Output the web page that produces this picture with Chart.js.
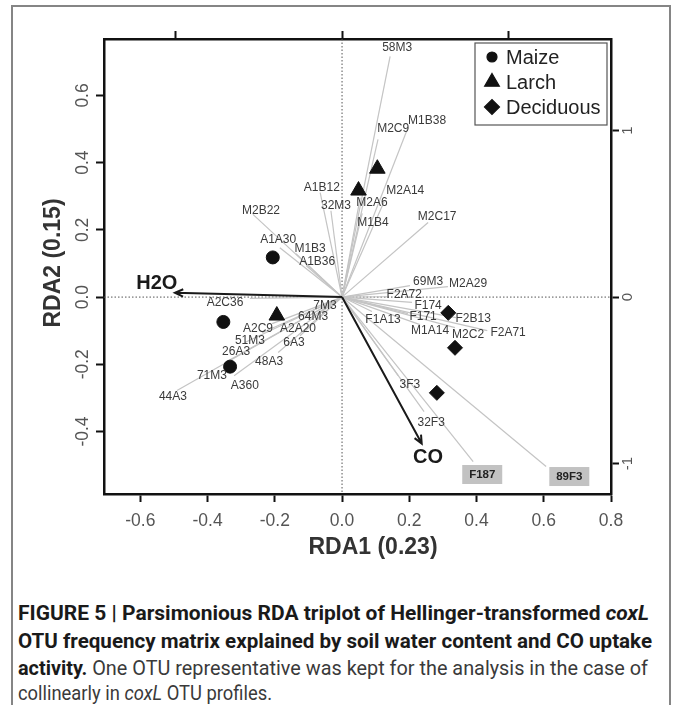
<!DOCTYPE html>
<html>
<head>
<meta charset="utf-8">
<script src="https://cdn.jsdelivr.net/npm/chart.js@4.4.0/dist/chart.umd.min.js"></script>
<style>
  html, body { margin: 0; padding: 0; background: #fff; }
  body { width: 673px; height: 705px; position: relative; overflow: hidden; }
  #frame { position: absolute; left: 11px; top: 5px; width: 656px; height: 720px;
           border: 2px solid #858585; border-bottom: none; }
  #plot { position: absolute; left: 0; top: 0; width: 673px; height: 570px; }
  .cap { position: absolute; left: 18px; white-space: nowrap; line-height: 26px;
         font-family: "Liberation Sans Narrow", "Roboto", "Liberation Sans", sans-serif;
         font-size: 19.5px; color: #3a3a3a; transform-origin: 0 50%; }
  .cap b { color: #1a1a1a; }
</style>
</head>
<body>
<div id="frame"></div>
<div id="plot"><canvas id="rdaChart" width="673" height="570"></canvas></div>

<span class="cap" data-w="631" style="top:601px"><b>FIGURE 5 | Parsimonious RDA triplot of Hellinger-transformed <i>coxL</i></b></span>
<span class="cap" data-w="634" style="top:629px"><b>OTU frequency matrix explained by soil water content and CO uptake</b></span>
<span class="cap" data-w="630" style="top:656px"><b>activity.</b> One OTU representative was kept for the analysis in the case of</span>
<span class="cap" data-w="254" style="top:681px">collinearly in <i>coxL</i> OTU profiles.</span>

<script>
/* RDA triplot: sites (symbols), OTU vectors (grey lines) and environmental arrows */

// ---- axes ----
const xRange = [-0.708, 0.8];
const yRange = [-0.586, 0.768];
const xTicks = [-0.6, -0.4, -0.2, 0.0, 0.2, 0.4, 0.6, 0.8];
const yTicks = [-0.4, -0.2, 0.0, 0.2, 0.4, 0.6];
const speciesTicks = [-1, 0, 1];
const speciesRatio = 0.4955;   // one unit of the top/right axes in RDA1/RDA2 units

// ---- sites ----
const maizeX = [-0.206, -0.353, -0.333];
const maizeY = [0.118, -0.074, -0.207];
const larchX = [0.105, 0.049, -0.194];
const larchY = [0.382, 0.317, -0.055];
const decidX = [0.316, 0.336, 0.282];
const decidY = [-0.047, -0.151, -0.285];

// ---- OTU vectors: tip of the grey line, and where its label sits ----
const otuNames = ['58M3', 'M2C9', 'M1B38', 'M2A14', 'M2A6', 'M1B4', 'M2C17', 'A1B12', '32M3', 'M2B22',
                  'A1A30', 'M1B3', 'A1B36', 'A2C36', '7M3', '64M3', 'A2C9', 'A2A20', '51M3', '6A3',
                  '26A3', '48A3', '71M3', 'A360', '44A3', '69M3', 'M2A29', 'F2A72', 'F174', 'F171',
                  'F2B13', 'F1A13', 'M1A14', 'M2C2', 'F2A71', '3F3', '32F3', 'F187', '89F3'];
const otuX = [0.143, 0.107, 0.196, 0.125, 0.054, 0.060, 0.256, -0.065, -0.033, -0.265,
              -0.185, -0.137, -0.107, -0.274, -0.024, -0.060, -0.208, -0.101, -0.238, -0.125,
              -0.289, -0.190, -0.348, -0.321, -0.491, 0.202, 0.315, 0.134, 0.208, 0.196,
              0.339, 0.089, 0.232, 0.336, 0.432, 0.167, 0.244, 0.390, 0.607];
const otuY = [0.716, 0.469, 0.504, 0.284, 0.296, 0.249, 0.222, 0.311, 0.257, 0.246,
              0.147, 0.129, 0.094, -0.004, -0.013, -0.040, -0.079, -0.067, -0.106, -0.115,
              -0.135, -0.165, -0.195, -0.234, -0.278, 0.034, 0.031, 0.001, -0.016, -0.049,
              -0.061, -0.043, -0.082, -0.091, -0.100, -0.234, -0.341, -0.490, -0.504];
const labelX = [0.164, 0.152, 0.253, 0.188, 0.089, 0.092, 0.283, -0.060, -0.018, -0.241,
                -0.190, -0.095, -0.074, -0.348, -0.051, -0.086, -0.250, -0.131, -0.274, -0.143,
                -0.315, -0.217, -0.387, -0.289, -0.503, 0.256, 0.375, 0.185, 0.256, 0.241,
                0.390, 0.122, 0.262, 0.375, 0.494, 0.202, 0.265, 0.417, 0.676];
const labelY = [0.743, 0.501, 0.525, 0.317, 0.281, 0.222, 0.240, 0.326, 0.272, 0.257,
                0.171, 0.144, 0.106, -0.016, -0.025, -0.058, -0.094, -0.094, -0.129, -0.135,
                -0.162, -0.192, -0.234, -0.263, -0.296, 0.046, 0.040, 0.007, -0.025, -0.058,
                -0.064, -0.067, -0.100, -0.112, -0.106, -0.260, -0.373, -0.528, -0.534];
const boxedOtus = ['F187', '89F3'];

// ---- environmental arrows ----
const envNames = ['H2O', 'CO'];
const envX = [-0.497, 0.237];
const envY = [0.013, -0.436];
const envLabelX = [-0.551, 0.256];
const envLabelY = [0.040, -0.478];

const FONT = '"Liberation Sans", Arial, sans-serif';
const INK = '#111';

const toPts = (xs, ys) => xs.map((x, i) => ({ x: x, y: ys[i] }));

const siteSets = [
    { label: 'Maize', data: toPts(maizeX, maizeY), pointStyle: 'circle', pointRadius: 6.5 },
    { label: 'Larch', data: toPts(larchX, larchY), pointStyle: 'triangle', pointRadius: 9 },
    { label: 'Deciduous', data: toPts(decidX, decidY), pointStyle: 'rectRot', pointRadius: 7.5 }
].map(d => Object.assign(d, {
    type: 'scatter', order: 0,
    backgroundColor: INK, borderColor: INK, borderWidth: 1
}));

const otuSets = otuNames.map((name, i) => ({
    type: 'scatter', label: name, order: 2, showLine: true,
    data: [{ x: 0, y: 0 }, { x: otuX[i], y: otuY[i] }],
    borderColor: '#c4c4c4', borderWidth: 1.2, pointRadius: 0
}));

function axisBox(position, size, lo, hi, ticks, axis) {
    return {
        type: 'linear', position: position, axis: axis, min: lo, max: hi,
        afterBuildTicks: s => { s.ticks = ticks.map(v => ({ value: v })); },
        afterFit: s => { if (axis === 'x') s.height = size; else s.width = size; },
        ticks: { display: false },
        grid: { display: true, drawOnChartArea: false, drawTicks: true,
                tickLength: 8, tickWidth: 2, tickColor: INK },
        border: { display: true, color: INK, width: 2.5 }
    };
}

function drawArrow(ctx, x0, y0, x1, y1) {
    const a = Math.atan2(y1 - y0, x1 - x0), len = 9, spread = 0.42;
    ctx.beginPath();
    ctx.moveTo(x0, y0);
    ctx.lineTo(x1, y1);
    ctx.moveTo(x1 - len * Math.cos(a - spread), y1 - len * Math.sin(a - spread));
    ctx.lineTo(x1, y1);
    ctx.lineTo(x1 - len * Math.cos(a + spread), y1 - len * Math.sin(a + spread));
    ctx.stroke();
}

function rotatedText(ctx, text, x, y) {
    ctx.save();
    ctx.translate(x, y);
    ctx.rotate(-Math.PI / 2);
    ctx.fillText(text, 0, 0);
    ctx.restore();
}

const triplotDecor = {
    id: 'triplotDecor',
    beforeDatasetsDraw(chart) {
        const { ctx, chartArea: a, scales: { x, y } } = chart;
        ctx.save();
        ctx.strokeStyle = '#555';
        ctx.lineWidth = 1;
        ctx.setLineDash([1.5, 2]);
        ctx.beginPath();
        ctx.moveTo(x.getPixelForValue(0), a.top);
        ctx.lineTo(x.getPixelForValue(0), a.bottom);
        ctx.moveTo(a.left, y.getPixelForValue(0));
        ctx.lineTo(a.right, y.getPixelForValue(0));
        ctx.stroke();
        ctx.restore();
    },
    afterDatasetsDraw(chart) {
        const { ctx, chartArea: a, scales: { x, y } } = chart;
        ctx.save();

        // environmental arrows
        ctx.strokeStyle = '#1a1a1a';
        ctx.lineWidth = 2;
        envNames.forEach((n, i) => {
            drawArrow(ctx, x.getPixelForValue(0), y.getPixelForValue(0),
                      x.getPixelForValue(envX[i]), y.getPixelForValue(envY[i]));
        });
        ctx.fillStyle = '#1a1a1a';
        ctx.font = 'bold 20px ' + FONT;
        ctx.textAlign = 'center';
        ctx.textBaseline = 'middle';
        envNames.forEach((n, i) => {
            ctx.fillText(n, x.getPixelForValue(envLabelX[i]), y.getPixelForValue(envLabelY[i]));
        });

        // OTU labels
        otuNames.forEach((n, i) => {
            const px = x.getPixelForValue(labelX[i]), py = y.getPixelForValue(labelY[i]);
            if (boxedOtus.includes(n)) {
                ctx.fillStyle = '#c2c2c2';
                ctx.fillRect(px - 20, py - 9.5, 40, 19);
                ctx.fillStyle = '#222';
                ctx.font = 'bold 11.5px ' + FONT;
            } else {
                ctx.fillStyle = '#3a3a3a';
                ctx.font = '12px ' + FONT;
            }
            ctx.fillText(n, px, py);
        });

        // legend, top-right inside the box
        const lw = 132, lh = 82, lx = a.right - lw - 4, ly = a.top + 4;
        ctx.fillStyle = '#fff';
        ctx.fillRect(lx, ly, lw, lh);
        ctx.strokeStyle = '#555';
        ctx.lineWidth = 1.2;
        ctx.strokeRect(lx, ly, lw, lh);
        ctx.textAlign = 'left';
        ctx.font = '20px ' + FONT;
        const legendRadius = { circle: 5, triangle: 8.5, rectRot: 7.5 };
        siteSets.forEach((s, i) => {
            const cy = ly + 14 + i * 25;
            ctx.fillStyle = INK;
            ctx.strokeStyle = INK;
            Chart.helpers.drawPoint(ctx, { pointStyle: s.pointStyle, radius: legendRadius[s.pointStyle],
                                           rotation: 0, borderWidth: 1 }, lx + 17, cy);
            ctx.fillStyle = '#222';
            ctx.fillText(s.label, lx + 31, cy + 1);
        });
        ctx.restore();
    },
    afterDraw(chart) {
        const { ctx, chartArea: a, scales } = chart;
        ctx.save();
        ctx.textAlign = 'center';
        ctx.textBaseline = 'middle';

        ctx.fillStyle = '#555';
        ctx.font = '17.5px ' + FONT;
        scales.x.ticks.forEach(t => {
            ctx.fillText(t.value.toFixed(1), scales.x.getPixelForValue(t.value), a.bottom + 27);
        });
        scales.y.ticks.forEach(t => {
            rotatedText(ctx, t.value.toFixed(1), a.left - 21, scales.y.getPixelForValue(t.value));
        });
        ctx.font = '15px ' + FONT;
        scales.y2.ticks.forEach(t => {
            rotatedText(ctx, String(t.value), a.right + 17, scales.y2.getPixelForValue(t.value));
        });

        ctx.fillStyle = '#333';
        ctx.font = 'bold 23px ' + FONT;
        ctx.fillText('RDA1 (0.23)', 373, a.bottom + 54);
        rotatedText(ctx, 'RDA2 (0.15)', a.left - 50, 263);
        ctx.restore();
    }
};

new Chart(document.getElementById('rdaChart').getContext('2d'), {
    data: { datasets: siteSets.concat(otuSets) },
    options: {
        responsive: false,
        animation: false,
        layout: { padding: 0 },
        scales: {
            x: axisBox('bottom', 76, xRange[0], xRange[1], xTicks, 'x'),
            y: axisBox('left', 104, yRange[0], yRange[1], yTicks, 'y'),
            x2: axisBox('top', 39, xRange[0] / speciesRatio, xRange[1] / speciesRatio, speciesTicks, 'x'),
            y2: axisBox('right', 62, yRange[0] / speciesRatio, yRange[1] / speciesRatio, speciesTicks, 'y')
        },
        plugins: {
            legend: { display: false },
            tooltip: { enabled: false }
        }
    },
    plugins: [triplotDecor]
});

// squeeze each caption line to the width it has in the printed figure
document.querySelectorAll('.cap').forEach(el => {
    const w = el.getBoundingClientRect().width;
    el.style.transform = 'scaleX(' + (Number(el.dataset.w) / w).toFixed(4) + ')';
});
</script>
</body>
</html>
